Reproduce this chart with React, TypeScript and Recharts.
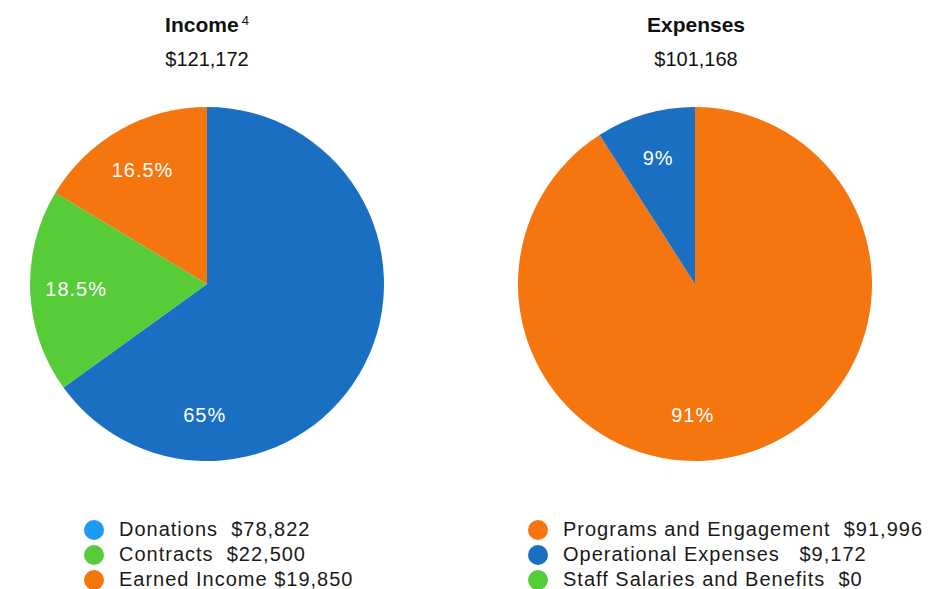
import React from "react";
import { PieChart, Pie, Cell, Legend } from "recharts";

// Income
const incomeNames = ["Donations", "Contracts", "Earned Income"];
const incomeValues = [78822, 22500, 19850];
const incomeLabels = ["65%", "18.5%", "16.5%"];
const incomeColors = ["#1b6fc2", "#58cc38", "#f5760f"];
const incomeLegendColors = ["#1d9bf0", "#58cc38", "#f5760f"];
const incomeGaps = ["  ", "  ", " "];

// Expenses
const expenseNames = ["Programs and Engagement", "Operational Expenses", "Staff Salaries and Benefits"];
const expenseValues = [91996, 9172, 0];
const expenseLabels = ["91%", "9%", ""];
const expenseColors = ["#f5760f", "#1b6fc2", "#58cc38"];
const expenseGaps = ["  ", "   ", "  "];

const FONT = "'Liberation Sans', Arial, Helvetica, sans-serif";
const RADIAN = Math.PI / 180;

const fmt = (v: number) => "$" + v.toLocaleString("en-US");

const makeLabel = (labels: string[]) => (props: any) => {
  const { cx, cy, midAngle, outerRadius, percent, index } = props;
  const text = labels[index];
  if (!text) return null;
  // big slices get their label at the bottom, the rest at mid angle
  const angle = percent > 0.5 ? -91 : midAngle;
  const r = outerRadius * 0.74;
  const x = cx + r * Math.cos(-angle * RADIAN);
  const y = cy + r * Math.sin(-angle * RADIAN);
  return (
    <text
      x={x}
      y={y}
      fill="#ffffff"
      textAnchor="middle"
      dominantBaseline="central"
      style={{ fontFamily: FONT, fontSize: 20, letterSpacing: 1 }}
    >
      {text}
    </text>
  );
};

const LegendList = ({ names, values, colors, gaps }: { names: string[]; values: number[]; colors: string[]; gaps: string[] }) => (
  <div style={{ fontFamily: FONT, fontSize: 20, letterSpacing: 1, color: "#1a1a1a" }}>
    {names.map((n, i) => (
      <div key={n} style={{ height: 25, lineHeight: "25px", display: "flex", alignItems: "center", whiteSpace: "pre" }}>
        <span style={{ width: 20, height: 20, borderRadius: 10, background: colors[i], display: "inline-block", marginRight: 15, flex: "none" }} />
        <span>{n + gaps[i] + fmt(values[i])}</span>
      </div>
    ))}
  </div>
);

const Header = ({ left, title, sup, total }: { left: number; title: string; sup?: string; total: number }) => (
  <div style={{ position: "absolute", left, top: 14, width: 300, textAlign: "center", fontFamily: FONT, color: "#111" }}>
    <div style={{ fontSize: 21, fontWeight: "bold", lineHeight: "22px" }}>
      {title}
      {sup && <sup style={{ fontSize: 13, fontWeight: "normal", verticalAlign: "top", position: "relative", top: -4, marginLeft: 3 }}>{sup}</sup>}
    </div>
    <div style={{ fontSize: 20, lineHeight: "22px", marginTop: 12 }}>{fmt(total)}</div>
  </div>
);

const App: React.FC = () => {
  const income = incomeNames.map((name, i) => ({ name, value: incomeValues[i] }));
  const expenses = expenseNames.map((name, i) => ({ name, value: expenseValues[i] }));
  const incomeTotal = incomeValues.reduce((a, b) => a + b, 0);
  const expenseTotal = expenseValues.reduce((a, b) => a + b, 0);

  return (
    <div style={{ position: "absolute", left: 0, top: 0, width: 945, height: 589, background: "#ffffff", overflow: "hidden" }}>
      <Header left={57} title="Income" sup="4" total={incomeTotal} />
      <Header left={546} title="Expenses" total={expenseTotal} />

      <div style={{ position: "absolute", left: 0, top: 0 }}>
        <PieChart width={472} height={589}>
          <Pie
            data={income}
            dataKey="value"
            cx={202}
            cy={279}
            outerRadius={177}
            startAngle={90}
            endAngle={-270}
            stroke="none"
            labelLine={false}
            label={makeLabel(incomeLabels)}
            isAnimationActive={false}
          >
            {income.map((d, i) => (
              <Cell key={d.name} fill={incomeColors[i]} />
            ))}
          </Pie>
          <Legend
            content={() => <LegendList names={incomeNames} values={incomeValues} colors={incomeLegendColors} gaps={incomeGaps} />}
            wrapperStyle={{ position: "absolute", left: 84, top: 517, width: 385 }}
          />
        </PieChart>
      </div>

      <div style={{ position: "absolute", left: 472, top: 0 }}>
        <PieChart width={473} height={589}>
          <Pie
            data={expenses}
            dataKey="value"
            cx={218}
            cy={279}
            outerRadius={177}
            startAngle={90}
            endAngle={-270}
            stroke="none"
            labelLine={false}
            label={makeLabel(expenseLabels)}
            isAnimationActive={false}
          >
            {expenses.map((d, i) => (
              <Cell key={d.name} fill={expenseColors[i]} />
            ))}
          </Pie>
          <Legend
            content={() => <LegendList names={expenseNames} values={expenseValues} colors={expenseColors} gaps={expenseGaps} />}
            wrapperStyle={{ position: "absolute", left: 56, top: 517, width: 415 }}
          />
        </PieChart>
      </div>
    </div>
  );
};

export default App;
